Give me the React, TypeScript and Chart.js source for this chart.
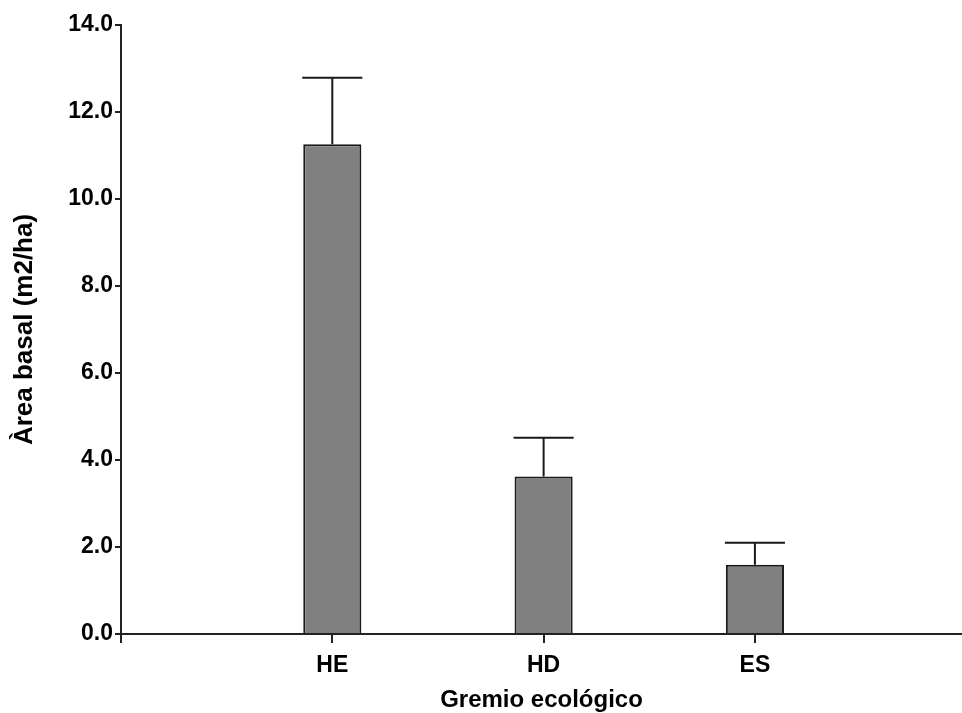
import React, { useEffect, useRef } from 'react';
import { Chart, registerables } from 'chart.js';

Chart.register(...registerables);

// ---- data ----
const categories = ['HE', 'HD', 'ES'];
const categoryPositions = [1, 2, 3];
const means = [11.26, 3.62, 1.59];
const upperErrors = [1.53, 0.89, 0.51];
const yTickValues = [0, 2, 4, 6, 8, 10, 12, 14];
const xTitle = 'Gremio ecológico';
const yTitle = 'Àrea basal (m2/ha)';

const FONT = "'Liberation Sans', Arial, Helvetica, sans-serif";
const AXIS_COLOR = '#222222';

const errorBarPlugin = {
  id: 'errorBars',
  afterDatasetsDraw(chart: any) {
    const meta = chart.getDatasetMeta(0);
    const yScale = chart.scales.y;
    const ctx = chart.ctx;
    ctx.save();
    ctx.strokeStyle = '#1a1a1a';
    ctx.lineWidth = 2;
    meta.data.forEach((bar: any, i: number) => {
      const { x, y, width } = bar.getProps(['x', 'y', 'width'], true);
      const top = yScale.getPixelForValue(means[i] + upperErrors[i]);
      ctx.beginPath();
      ctx.moveTo(x, y);
      ctx.lineTo(x, top);
      ctx.moveTo(x - width / 2 - 1, top);
      ctx.lineTo(x + width / 2 + 1, top);
      ctx.stroke();
    });
    ctx.restore();
  },
};

export default function App() {
  const canvasRef = useRef<HTMLCanvasElement | null>(null);

  useEffect(() => {
    const canvas = canvasRef.current;
    if (!canvas) return;
    const chart = new Chart(canvas, {
      type: 'bar',
      data: {
        datasets: [
          {
            data: categoryPositions.map((x, i) => ({ x, y: means[i] })),
            backgroundColor: '#808080',
            borderColor: '#1a1a1a',
            borderWidth: 2,
            borderSkipped: 'start',
            categoryPercentage: 1,
            barPercentage: 0.275,
          },
        ],
      },
      options: {
        animation: false,
        responsive: false,
        maintainAspectRatio: false,
        layout: { padding: { top: 25, right: 0, bottom: 0, left: 0 } },
        plugins: {
          legend: { display: false },
          tooltip: { enabled: false },
        },
        scales: {
          x: {
            type: 'linear',
            min: 0,
            max: 3.98,
            offset: false,
            afterFit(scale: any) {
              scale.height = 79;
            },
            afterBuildTicks(scale: any) {
              scale.ticks = [0, ...categoryPositions].map((v) => ({ value: v }));
            },
            ticks: {
              includeBounds: false,
              stepSize: 1,
              autoSkip: false,
              maxRotation: 0,
              padding: 9,
              color: '#000',
              font: { family: FONT, size: 23, weight: 'bold' },
              callback: (v: any) => {
                const idx = categoryPositions.indexOf(Number(v));
                return idx >= 0 ? categories[idx] : '';
              },
            },
            grid: {
              display: true,
              offset: false,
              drawOnChartArea: false,
              drawTicks: true,
              tickLength: 9,
              color: AXIS_COLOR,
              lineWidth: 2,
            },
            border: { display: true, color: AXIS_COLOR, width: 2 },
            title: {
              display: true,
              text: xTitle,
              color: '#000',
              font: { family: FONT, size: 24, weight: 'bold' },
              padding: { top: 0, bottom: -2 },
            },
          },
          y: {
            min: 0,
            max: 14,
            afterFit(scale: any) {
              scale.width = 121;
            },
            afterBuildTicks(scale: any) {
              scale.ticks = yTickValues.map((v) => ({ value: v }));
            },
            ticks: {
              padding: 2,
              color: '#000',
              font: { family: FONT, size: 23, weight: 'bold' },
              callback: (v: any) => Number(v).toFixed(1),
            },
            grid: {
              display: true,
              drawOnChartArea: false,
              drawTicks: true,
              tickLength: 6,
              color: AXIS_COLOR,
              lineWidth: 2,
            },
            border: { display: true, color: AXIS_COLOR, width: 2 },
            title: {
              display: true,
              text: yTitle,
              color: '#000',
              font: { family: FONT, size: 26, weight: 'bold' },
              padding: { top: 9, bottom: 0 },
            },
          },
        },
      },
      plugins: [errorBarPlugin],
    } as any);
    return () => chart.destroy();
  }, []);

  return (
    <div style={{ position: 'fixed', left: 0, top: 0, width: 962, height: 713, background: '#fff' }}>
      <canvas ref={canvasRef} width={962} height={713} style={{ display: 'block', width: 962, height: 713 }} />
    </div>
  );
}
